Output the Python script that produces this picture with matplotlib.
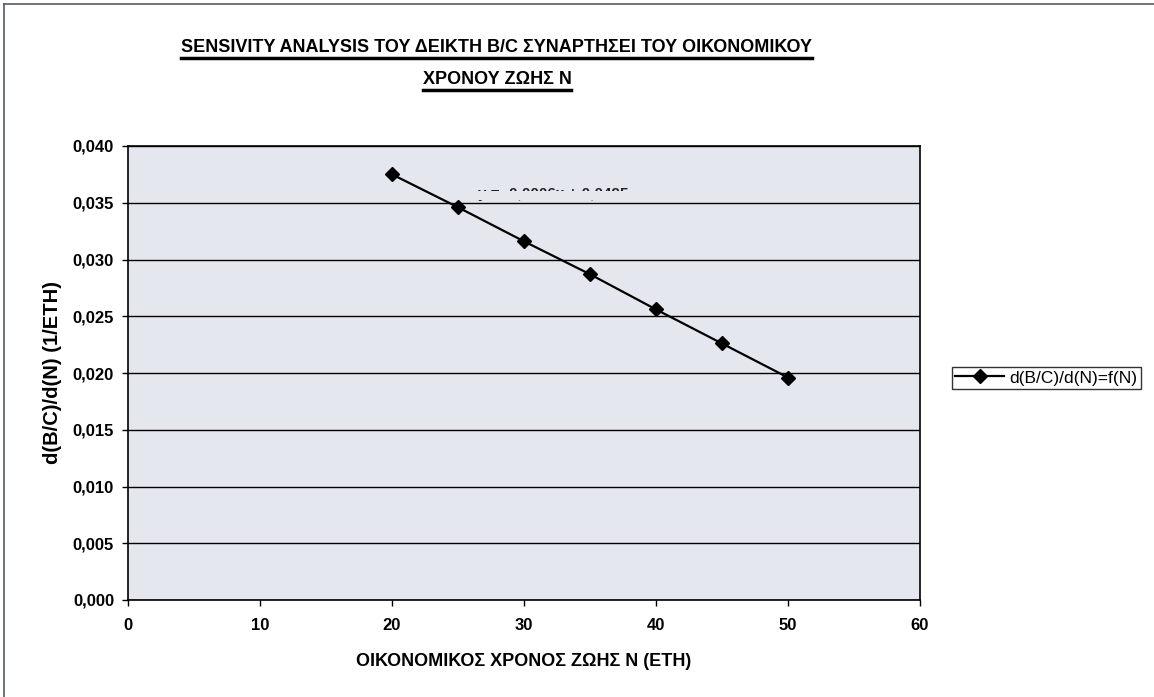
import matplotlib.pyplot as plt
from matplotlib.patches import Rectangle
from matplotlib.lines import Line2D

# data
years = [20, 25, 30, 35, 40, 45, 50]
dbc_dn = [0.0375, 0.0346, 0.0316, 0.0287, 0.0256, 0.0226, 0.0196]
x_ticks = [0, 10, 20, 30, 40, 50, 60]
y_ticks = [0.000, 0.005, 0.010, 0.015, 0.020, 0.025, 0.030, 0.035, 0.040]

plt.rcParams['font.family'] = ['Liberation Sans', 'DejaVu Sans']
plt.rcParams['font.weight'] = 'bold'

W, H = 1154, 697
BG = '#e4e8ee'
fig = plt.figure(figsize=(W / 100, H / 100), dpi=100)
fig.patch.set_facecolor('white')

# outer frame (top + left visible)
fig.add_artist(Line2D([4 / W, 4 / W], [0, 1 - 4 / H], color='#555a66', lw=1.2))
fig.add_artist(Line2D([4 / W, 1], [1 - 4 / H, 1 - 4 / H], color='#555a66', lw=1.2))

ax = fig.add_axes([128 / W, 1 - 600 / H, (920 - 128) / W, (600 - 146) / H])
ax.set_facecolor(BG)

ax.plot(years, dbc_dn, color='black', lw=1.6, marker='D', markersize=7,
        label='d(B/C)/d(N)=f(N)', zorder=3)

ax.set_xlim(0, 60)
ax.set_ylim(0, 0.040)
ax.set_xticks(x_ticks)
ax.set_yticks(y_ticks)
ax.set_xticklabels([str(v) for v in x_ticks])
ax.set_yticklabels([f'{v:.3f}'.replace('.', ',') for v in y_ticks])
ax.tick_params(axis='both', labelsize=12, length=4, width=1, color='black', pad=6)
ax.tick_params(axis='x', pad=9)
ax.yaxis.grid(True, color='black', lw=1)
ax.set_axisbelow(True)
for s in ax.spines.values():
    s.set_color('black')
    s.set_linewidth(1.2)

ax.set_xlabel('ΟΙΚΟΝΟΜΙΚΟΣ ΧΡΟΝΟΣ ΖΩΗΣ Ν (ΕΤΗ)', fontsize=13, fontweight='bold', labelpad=14)
ax.set_ylabel('d(B/C)/d(N) (1/ETH)', fontsize=14.5, fontweight='bold', labelpad=8)

# faded trendline equation, only a thin strip of it survives in the scan
ax.text(32.2, 0.0358, 'y = -0,0006x + 0,0495', fontsize=11, fontweight='bold',
        ha='center', va='center', color='#222222', zorder=2)
ax.add_patch(Rectangle((24.5, 0.03628), 16, 0.0007, color=BG, lw=0, zorder=2.5))
ax.add_patch(Rectangle((24.5, 0.03520), 16, 0.00085, color=BG, lw=0, zorder=2.5))

leg = fig.legend(loc='center left', bbox_to_anchor=(952 / W, 1 - 378 / H),
                 fontsize=12.5, frameon=True, fancybox=False, handlelength=2.8,
                 borderpad=0.2, handletextpad=0.3, borderaxespad=0)
leg.get_frame().set_edgecolor('black')
leg.get_frame().set_linewidth(1)
for t in leg.get_texts():
    t.set_fontweight('normal')

t1 = fig.text(497 / W, 1 - 48 / H, 'SENSIVITY ANALYSIS ΤΟΥ ΔΕΙΚΤΗ Β/C ΣΥΝΑΡΤΗΣΕΙ ΤΟΥ ΟΙΚΟΝΟΜΙΚΟΥ',
              ha='center', va='center', fontsize=13, fontweight='bold')
t2 = fig.text(497 / W, 1 - 80 / H, 'ΧΡΟΝΟΥ ΖΩΗΣ Ν',
              ha='center', va='center', fontsize=13, fontweight='bold')

# underline the title lines
fig.canvas.draw()
r = fig.canvas.get_renderer()
for t in (t1, t2):
    bb = t.get_window_extent(r).transformed(fig.transFigure.inverted())
    y = bb.y0 - 1 / H
    fig.add_artist(Line2D([bb.x0, bb.x1], [y, y], color='black', lw=2.5))

fig.savefig('out.png', dpi=100)
